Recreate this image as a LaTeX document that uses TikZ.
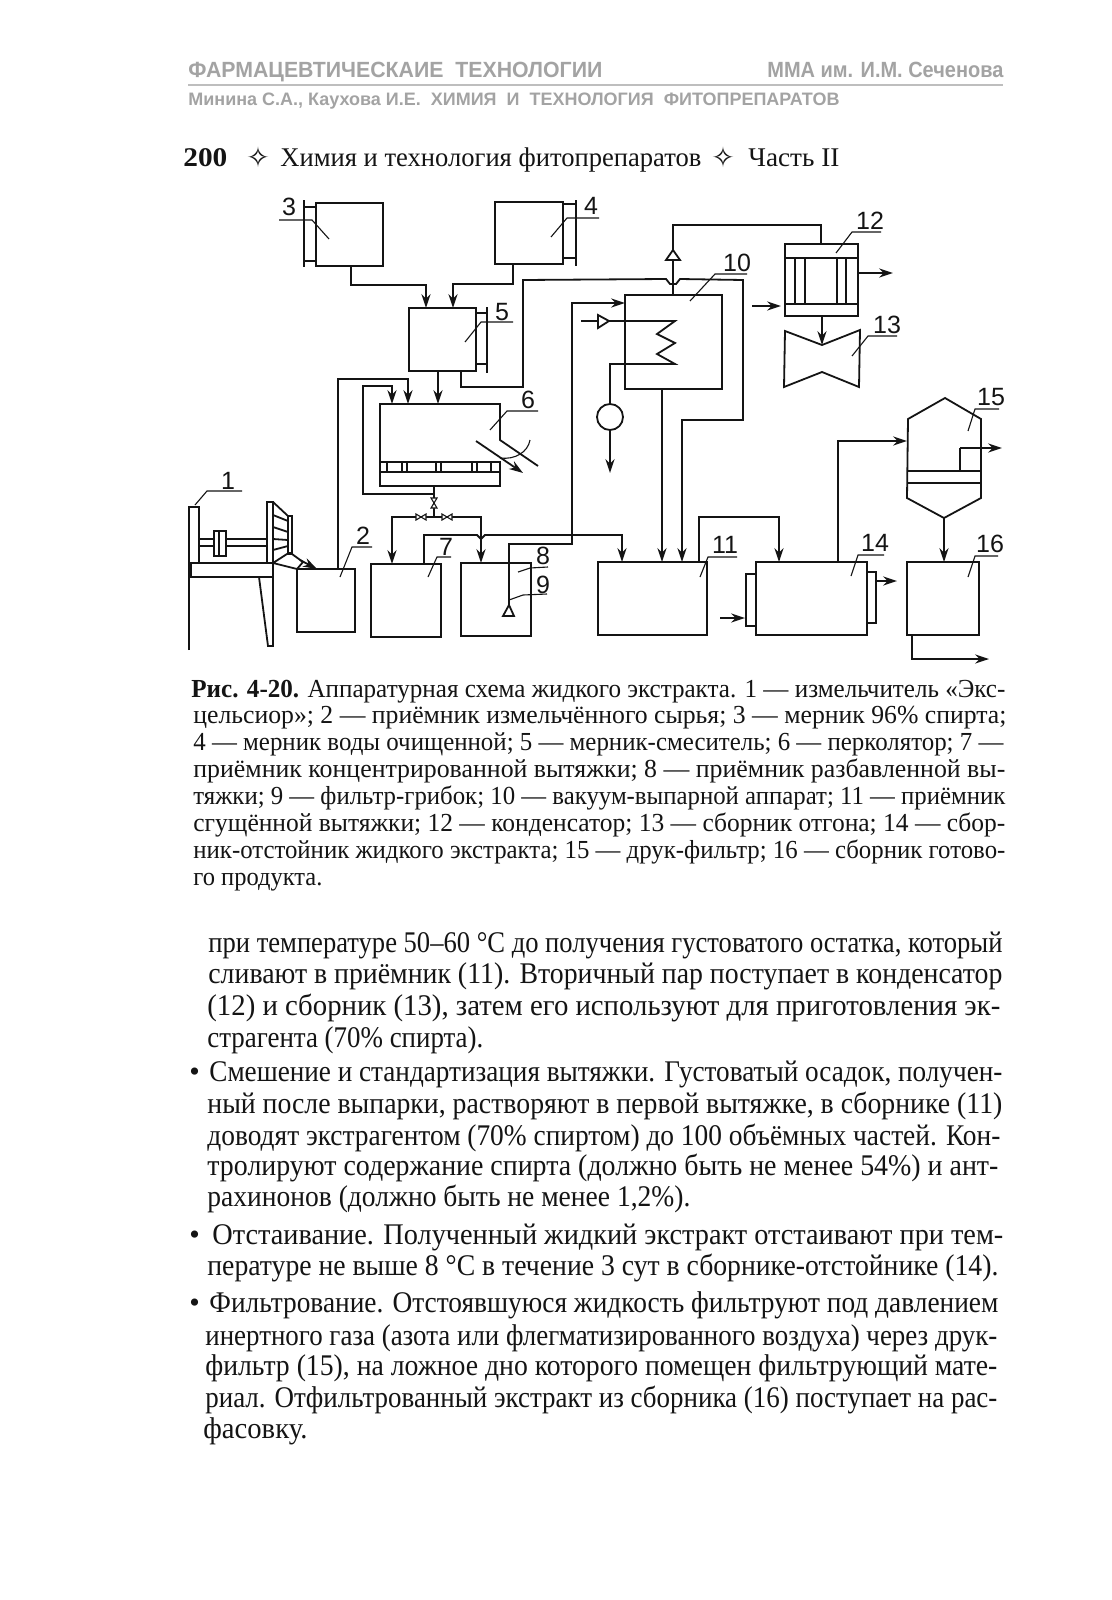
\documentclass[tikz,border=0pt]{standalone}
\usepackage{fontspec}
\setmainfont{Liberation Serif}
\setsansfont{Liberation Sans}
\newfontfamily\symfont{DejaVu Sans}
\usetikzlibrary{arrows.meta}
\definecolor{headgray}{HTML}{A3A3A3}
\definecolor{inkdark}{HTML}{141414}
% squeeze one printed line to its width on the page
\newcommand{\fitline}[2]{\resizebox{\dimexpr#1pt/2\relax}{\height}{#2}}

\begin{document}
\begin{tikzpicture}[x=0.5pt, y=-0.5pt, line join=miter, color=inkdark,
    pipe/.style={line width=0.9pt},
    flow/.style={pipe, -{Stealth[length=7pt, width=4.6pt]}},
    leader/.style={line width=0.55pt},
    vessel/.style 2 args={draw, pipe, inner sep=0pt, outer sep=0pt,
      minimum width=#1*0.5pt, minimum height=#2*0.5pt},
    numlabel/.style={font=\sffamily\fontsize{12.5}{13}\selectfont, inner sep=0pt},
    headline/.style={anchor=base west, inner sep=0pt, text=headgray},
    pageline/.style={anchor=base west, inner sep=0pt, font=\fontsize{13.5}{15}\selectfont},
    capline/.style={anchor=base west, inner sep=0pt, font=\fontsize{13}{15}\selectfont},
    bodyline/.style={anchor=base west, inner sep=0pt, font=\fontsize{15}{17}\selectfont}]
  \fill[white] (0,0) rectangle (1112,1600);
  \useasboundingbox (0,0) rectangle (1112,1600);

  % page head
  \node[headline, font=\sffamily\bfseries\fontsize{11}{12}\selectfont] (headA) at (188,78)
    {\fitline{414}{ФАРМАЦЕВТИЧЕСКАИЕ\ \ ТЕХНОЛОГИИ}};
  \node[headline, font=\sffamily\bfseries\fontsize{11}{12}\selectfont] (headB) at (767,78)
    {\fitline{236}{ММА им. И.М. Сеченова}};
  \draw[headgray!70, line width=0.6pt] (188,85) -- (1003,85);
  \node[headline, font=\sffamily\bfseries\fontsize{9}{10}\selectfont] (headC) at (188,105)
    {\fitline{651}{Минина С.А., Каухова И.Е.\ \ ХИМИЯ\ \ И\ \ ТЕХНОЛОГИЯ\ \ ФИТОПРЕПАРАТОВ}};
  \node[pageline] (pageNo) at (183,166) {\fitline{44}{\textbf{200}}};
  \node[pageline, font=\symfont\fontsize{14}{15}\selectfont] (starA) at (246,167) {✧};
  \node[pageline] (pageT) at (280,166) {\fitline{421}{Химия и технология фитопрепаратов}};
  \node[pageline, font=\symfont\fontsize{14}{15}\selectfont] (starB) at (711,167) {✧};
  \node[pageline] (pageP) at (748,166) {\fitline{91}{Часть II}};

  % apparatus
  \foreach \n/\x/\y/\w/\h in {box2/326/600.5/58/63, box3/349.5/234.5/67/63, box4/529/233/68/62,
      box5/442.5/339.5/67/63, box7/406/600.5/70/73, box8/496/599.5/70/73,
      box10/673.5/342/97/94, box11/652.5/598.5/109/73, box12/821.5/280/73/72,
      box14/811.5/598.5/111/73, box16/943/598.5/72/73, grid6/440/467/120/10, tray6/440/479/120/14}
    \node[vessel={\w}{\h}] (\n) at (\x,\y) {};
  \node[draw, pipe, circle, inner sep=0pt, outer sep=0pt, minimum size=13pt] (pump) at (610,417) {};
  \foreach \n/\x/\y in {top6/440/404, in15/907/441, apex15/945/398, low15/944/518, cone13/822/345,
      out6/523/473, in12/781/306, out12/893/273, outpump/610/473, out15/1002/448,
      in14/745/618, out14/897/581, out16/989/659, filt9/509/605, tee/572/535}
    \coordinate (\n) at (\x,\y);

  % brackets of the measuring tanks
  \draw[pipe] (box3.west |- 0,207) -- (304,207) (304,200) -- (304,267) (304,261) -- (box3.west |- 0,261);
  \draw[pipe] (box4.east |- 0,204) -- (576,204) (576,200) -- (576,266) (576,258) -- (box4.east |- 0,258);
  \draw[pipe] (box5.east |- 0,313) -- (487,313) (487,307) -- (487,373) (487,364) -- (box5.east |- 0,364);

  % percolator
  \draw[pipe] (grid6.north west) -- (380,404) -- (500,404) -- (500,440) -- (538,466);
  \foreach \x in {387,402,407,436,441,472,477,491}
    \draw[pipe] (\x,462) -- (\x,472);
  \draw[leader] (530,440) .. controls (528,452) and (515,460) .. (500,458);
  \draw[flow] (476,441) -- (out6);

  % evaporator, coil and pump
  \draw[pipe] (581,321) -- (675,321) -- (657,334) -- (675,343) -- (657,354) -- (675,364) -- (610,364) -- (pump.north);
  \draw[pipe, fill=white] (598,315) -- (609,321) -- (598,328) -- cycle;
  \draw[flow] (pump.south) -- (outpump);

  % condenser and receiver
  \foreach \y in {258,304}
    \draw[pipe] (785,\y) -- (858,\y);
  \foreach \x in {795,805,837,846}
    \draw[pipe] (\x,258) -- (\x,304);
  \draw[pipe] (785,331) -- (cone13) -- (860,330) -- (859,387) -- (822,372) -- (784,387) -- cycle;

  % press filter
  \draw[pipe] (908,419) -- (apex15) -- (981,419) -- (981,498) -- (low15) -- (907,498) -- cycle;
  \draw[pipe] (908,471) -- (981,471) (908,483) -- (981,483);

  % receiver plates
  \draw[pipe] (box14.west |- 0,574) -| (746,626) -- (box14.west |- 0,626);
  \draw[pipe] (box14.east |- 0,572) -| (876,623) -- (box14.east |- 0,623);

  % crusher
  \draw[pipe] (189,650) -- (189,507) -- (199,507) -- (199,563);
  \draw[pipe] (191,563) rectangle (273,577);
  \draw[pipe] (267,563) -- (267,502) -- (273,502) -- (273,646) -- (268,646) -- (259,577);
  \draw[pipe] (273,502) -- (288,516) -- (292,516) -- (292,553) -- (288,553) -- (288,516);
  \draw[pipe] (199,539) -- (267,539) (199,546) -- (267,546);
  \draw[pipe, fill=white] (214,531) rectangle (226,556) (219,531) -- (219,556);
  \foreach \a/\b in {515/521, 527/532, 539/540, 550/546}
    \draw[pipe] (273,\a) -- (288,\b);
  \draw[pipe] (273,563) -- (287,554) -- (292,554) -- (303,562) -- (297,569) -- cycle;
  \draw[flow] (300,560) -- (317,569);

  % connectors
  \draw[flow] (351,0 |- box3.south) |- (426,285) -- (426,0 |- box5.north);
  \draw[flow] (513,0 |- box4.south) |- (453,284) -- (453,0 |- box5.north);
  \draw[flow] (438,0 |- box5.south) -- (438,0 |- top6);
  \draw[flow] (338,0 |- box2.north) |- (408,379) -- (408,0 |- top6);
  \draw[flow] (434,0 |- tray6.south) |- (363,494) |- (392,386) -- (392,0 |- top6);
  \draw[pipe] (434,0 |- tray6.south) -- (434,517);
  \draw[flow] (434,517) -- (392,517) -- (392,0 |- box7.north);
  \draw[flow] (434,517) -- (481,517) -- (481,0 |- box8.north);
  \foreach \x in {421,447}
    \draw[leader, fill=white] (\x-5,514) -- (\x+5,520) -- (\x+5,514) -- (\x-5,520) -- cycle;
  \draw[leader, fill=white] (431,498) -- (437,508) -- (431,508) -- (437,498) -- cycle;

  \draw[flow] (461,0 |- box5.south) |- (523,387) -- (523,280) -- (666,279) -- (670,284) -- (676,284)
    -- (680,279) -- (743,280) -- (743,420) -- (682,420) -- (682,0 |- box11.north);
  \draw[flow] (424,0 |- box7.north) -- (424,535) -- (477,535) -- (481,539) -- (485,535) -- (tee)
    -- (622,535) -- (622,0 |- box11.north);
  \draw[flow] (tee) |- (box10.west |- 0,303);
  \draw[pipe] (tee) |- (509,544) -- (filt9);
  \draw[pipe, fill=white] (filt9) -- (514,616) -- (503,616) -- cycle;
  \draw[pipe] (673,0 |- box10.north) |- (821,225) -- (821,0 |- box12.north);
  \draw[pipe, fill=white] (673,250) -- (680,260) -- (666,260) -- cycle;
  \draw[flow] (662,0 |- box10.south) -- (662,0 |- box11.north);
  \draw[flow] (699,0 |- box11.north) |- (779,517) -- (779,0 |- box14.north);
  \draw[flow] (752,306) -- (in12);
  \draw[flow] (box12.east |- out12) -- (out12);
  \draw[flow] (822,0 |- box12.south) -- (cone13);
  \draw[flow] (838,0 |- box14.north) |- (in15);
  \draw[pipe] (960,471) -- (960,448);
  \draw[flow] (960,448) -- (out15);
  \draw[flow] (low15) -- (low15 |- box16.north);
  \draw[flow] (720,618) -- (in14);
  \draw[flow] (876,581) -- (out14);
  \draw[flow] (912,0 |- box16.south) |- (out16);

  % numbers and their leaders
  \foreach \t/\lx/\ly/\ax/\ay/\bx/\by/\cx/\cy in {
      1/228/481/242/491/207/491/195/505, 2/363/536/372/547/352/547/340/577,
      3/289/207/279/220/312/220/329/239, 4/591/206/599/218/567/218/551/237,
      5/502/312/513/322/481/322/465/342, 6/528/400/538/411/507/411/490/430,
      7/446/547/451/557/437/557/428/577, 8/543/556/548/567/530/568/518/572,
      9/543/585/547/594/523/595/509/600, 10/737/263/747/274/715/274/690/301,
      11/725/545/737/557/708/557/700/577, 12/870/221/881/232/852/232/836/253,
      13/887/325/897/336/868/336/852/356, 14/875/543/884/555/858/555/851/576,
      15/991/397/999/409/975/409/968/431, 16/990/544/998/556/975/556/968/577} {
    \node[numlabel] (lbl\t) at (\lx,\ly) {\t};
    \draw[leader] (\ax,\ay) -- (\bx,\by) -- (\cx,\cy);
  }

  % caption
  \foreach \n/\x/\y/\w/\t in {
      1/191/697/814/{\textbf{Рис. 4-20.} Аппаратурная схема жидкого экстракта. 1 — измельчитель «Экс-},
      2/193/723/813/{цельсиор»; 2 — приёмник измельчённого сырья; 3 — мерник 96\% спирта;},
      3/193/750/810/{4 — мерник воды очищенной; 5 — мерник-смеситель; 6 — перколятор; 7 —},
      4/193/777/812/{приёмник концентрированной вытяжки; 8 — приёмник разбавленной вы-},
      5/193/804/812/{тяжки; 9 — фильтр-грибок; 10 — вакуум-выпарной аппарат; 11 — приёмник},
      6/193/831/812/{сгущённой вытяжки; 12 — конденсатор; 13 — сборник отгона; 14 — сбор-},
      7/193/858/812/{ник-отстойник жидкого экстракта; 15 — друк-фильтр; 16 — сборник готово-},
      8/193/885/129/{го продукта.}}
    \node[capline] (cap\n) at (\x,\y) {\fitline{\w}{\t}};

  % running text
  \foreach \n/\x/\y/\w/\t in {
      1/208/952/794/{при температуре 50–60 °C до получения густоватого остатка, который},
      2/208/983/794/{сливают в приёмник (11). Вторичный пар поступает в конденсатор},
      3/207/1015/793/{(12) и сборник (13), затем его используют для приготовления эк-},
      4/207/1047/276/{страгента (70\% спирта).},
      5/209/1081/793/{Смешение и стандартизация вытяжки. Густоватый осадок, получен-},
      6/207/1113/795/{ный после выпарки, растворяют в первой вытяжке, в сборнике (11)},
      7/207/1145/793/{доводят экстрагентом (70\% спиртом) до 100 объёмных частей. Кон-},
      8/207/1175/791/{тролируют содержание спирта (должно быть не менее 54\%) и ант-},
      9/207/1206/483/{рахинонов (должно быть не менее 1,2\%).},
      10/212/1244/791/{Отстаивание. Полученный жидкий экстракт отстаивают при тем-},
      11/207/1275/791/{пературе не выше 8 °C в течение 3 сут в сборнике-отстойнике (14).},
      12/209/1312/789/{Фильтрование. Отстоявшуюся жидкость фильтруют под давлением},
      13/205/1345/792/{инертного газа (азота или флегматизированного воздуха) через друк-},
      14/205/1375/792/{фильтр (15), на ложное дно которого помещен фильтрующий мате-},
      15/205/1407/792/{риал. Отфильтрованный экстракт из сборника (16) поступает на рас-},
      16/203/1438/104/{фасовку.}}
    \node[bodyline] (txt\n) at (\x,\y) {\fitline{\w}{\t}};
  \foreach \n/\y in {a/1081, b/1244, c/1312}
    \node[bodyline] (dot\n) at (189,\y) {•};
\end{tikzpicture}
\end{document}
